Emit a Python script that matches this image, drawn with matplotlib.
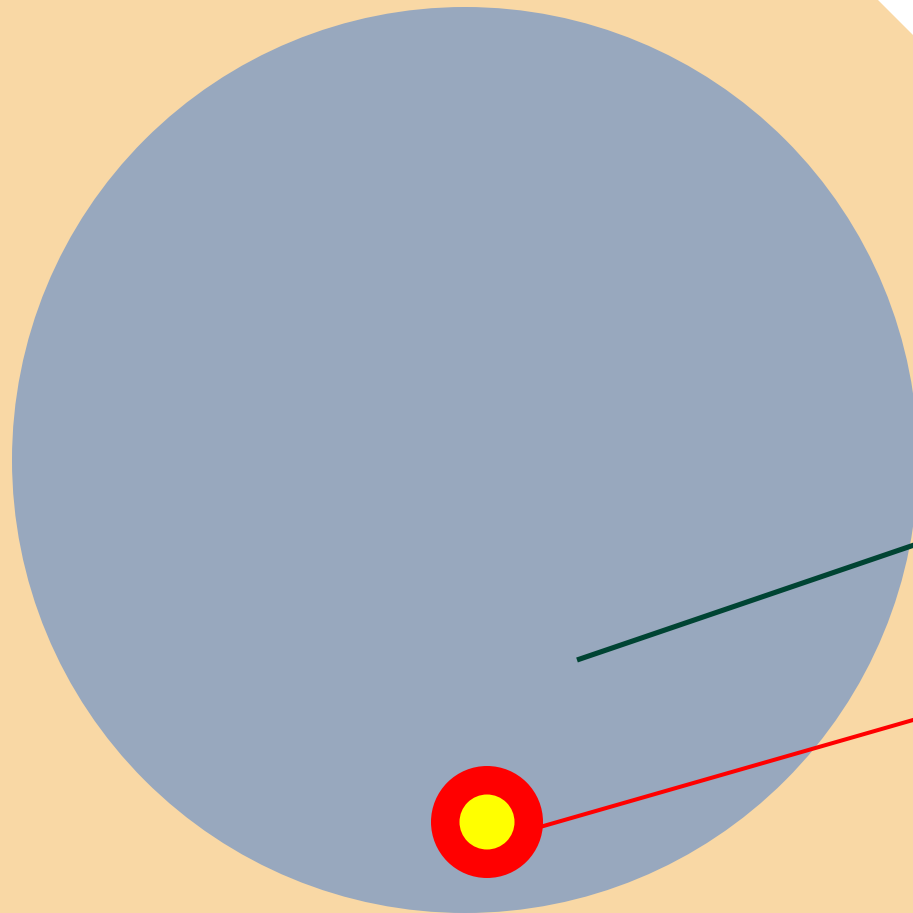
import matplotlib
matplotlib.use("Agg")
import matplotlib.pyplot as plt
from matplotlib.patches import Circle, Polygon

# picture coordinates, in pixels from the top-left corner
size = 913
corner_x = [878, 913, 913]
corner_y = [0, 0, 35]

disc_center = (465, 460)
disc_radius = 453

green_x = [577, 920]
green_y = [660, 543]

red_x = [540, 920]
red_y = [827, 718]

dot_center = (487, 822)
dot_outer = 56
dot_inner = 27.5

fig = plt.figure(figsize=(size / 100, size / 100), dpi=100)
ax = fig.add_axes([0, 0, 1, 1])
ax.set_xlim(0, size)
ax.set_ylim(size, 0)
ax.axis("off")
fig.patch.set_facecolor("#f9d8a5")

ax.add_patch(Polygon(list(zip(corner_x, corner_y)), closed=True,
                     facecolor="white", edgecolor="none"))
ax.add_patch(Circle(disc_center, disc_radius, facecolor="#98a8be", edgecolor="none"))

ax.plot(green_x, green_y, color="#004433", lw=3.7, solid_capstyle="butt")
ax.plot(red_x, red_y, color="#ff0000", lw=2.9, solid_capstyle="butt")

ax.add_patch(Circle(dot_center, dot_outer, facecolor="#ff0000", edgecolor="none"))
ax.add_patch(Circle(dot_center, dot_inner, facecolor="#ffff00", edgecolor="none"))

fig.savefig("out.png", dpi=100, facecolor=fig.get_facecolor())
